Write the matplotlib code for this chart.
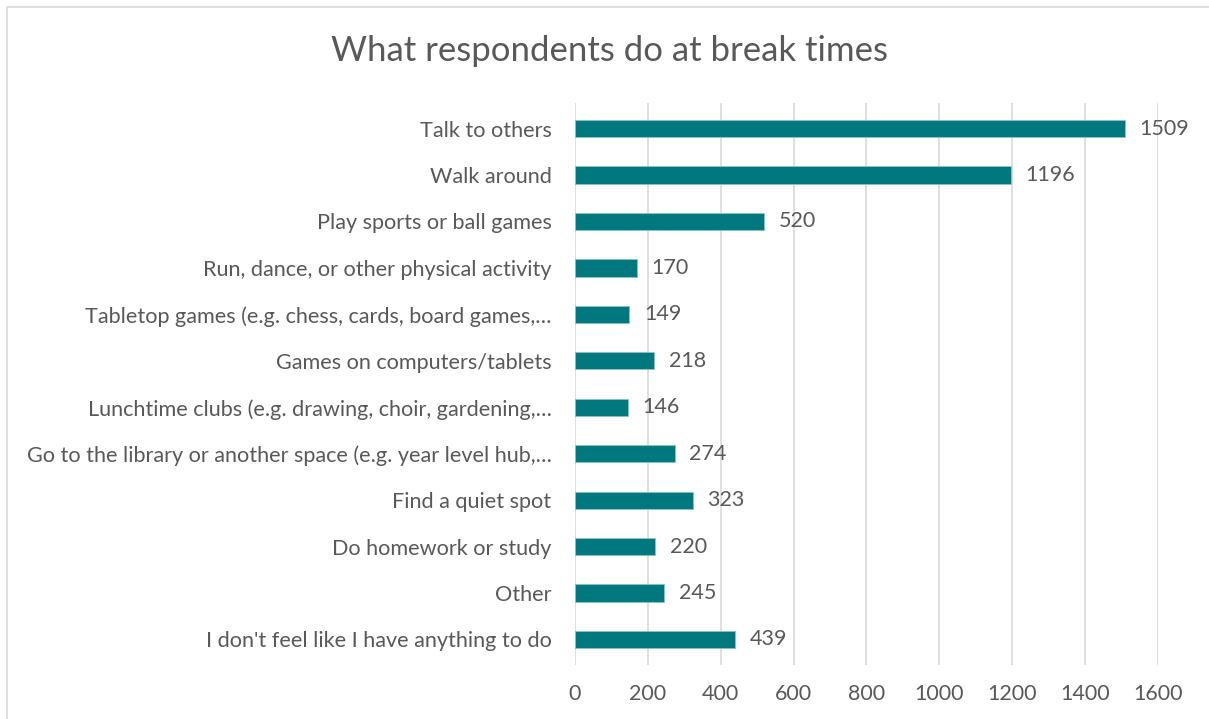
import matplotlib.pyplot as plt
from matplotlib.patches import Rectangle

categories = [
    "Talk to others",
    "Walk around",
    "Play sports or ball games",
    "Run, dance, or other physical activity",
    "Tabletop games (e.g. chess, cards, board games,…",
    "Games on computers/tablets",
    "Lunchtime clubs (e.g. drawing, choir, gardening,…",
    "Go to the library or another space (e.g. year level hub,…",
    "Find a quiet spot",
    "Do homework or study",
    "Other",
    "I don't feel like I have anything to do",
]
counts = [1509, 1196, 520, 170, 149, 218, 146, 274, 323, 220, 245, 439]
xticks = [0, 200, 400, 600, 800, 1000, 1200, 1400, 1600]

txt = "#595959"
bar_col = "#00787E"

plt.rcParams['font.family'] = ['Lato', 'DejaVu Sans']

fig = plt.figure(figsize=(12.09, 7.19), dpi=100)
ax = fig.add_axes([0.4756, 0.0751, 0.4822, 0.7816])

# chart area outline
fig.patches.append(Rectangle((7 / 1209, -0.1), 1.2, 1 - 7 / 719 + 0.1,
                             transform=fig.transFigure, fill=False,
                             edgecolor="#D9D9D9", linewidth=1.2))

ypos = list(range(len(categories)))
bars = ax.barh(ypos, counts, height=0.37, color=bar_col,
               edgecolor="#8CC4C6", linewidth=0.6, zorder=3)
for b, v in zip(bars, counts):
    ax.text(b.get_width() + 40, b.get_y() + b.get_height() / 2, str(v),
            va="center", ha="left", fontsize=15.5, color=txt)

ax.set_yticks(ypos)
ax.set_yticklabels(categories, fontsize=15.6, color=txt)
ax.set_ylim(11.55, -0.55)
ax.set_xlim(0, 1600)
ax.set_xticks(xticks)
ax.set_xticklabels([str(t) for t in xticks], fontsize=15.5, color=txt)
ax.xaxis.grid(True, color="#D9D9D9", linewidth=1.2, zorder=0)
ax.tick_params(axis="y", length=0, pad=17)
ax.tick_params(axis="x", length=0, pad=14)
for s in ax.spines.values():
    s.set_visible(False)

fig.text(0.504, 0.929, "What respondents do at break times", ha="center",
         va="center", fontsize=25, color=txt)

fig.savefig("out.png", dpi=100)
